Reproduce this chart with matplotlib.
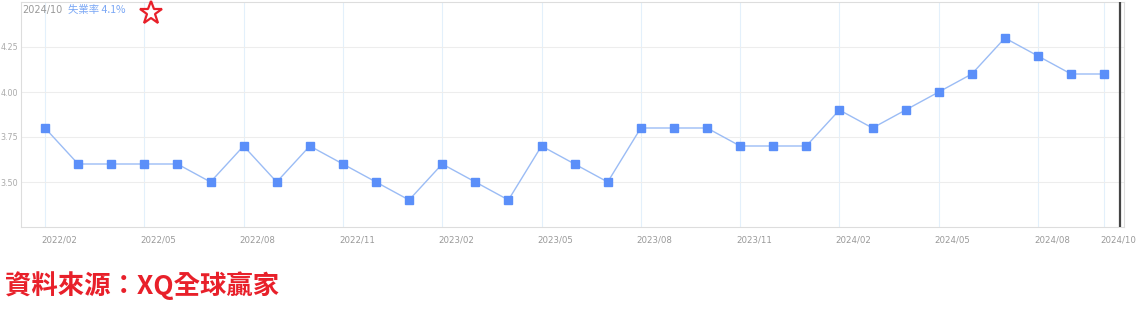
import matplotlib.pyplot as plt
from matplotlib.lines import Line2D
import numpy as np

plt.rcParams['font.family'] = ['Noto Sans CJK TC', 'DejaVu Sans']

# monthly unemployment rate, 2022/02 .. 2024/10
months = ['2022/02', '2022/03', '2022/04', '2022/05', '2022/06', '2022/07', '2022/08',
          '2022/09', '2022/10', '2022/11', '2022/12', '2023/01', '2023/02', '2023/03',
          '2023/04', '2023/05', '2023/06', '2023/07', '2023/08', '2023/09', '2023/10',
          '2023/11', '2023/12', '2024/01', '2024/02', '2024/03', '2024/04', '2024/05',
          '2024/06', '2024/07', '2024/08', '2024/09', '2024/10']
rate = [3.8, 3.6, 3.6, 3.6, 3.6, 3.5, 3.7, 3.5, 3.7, 3.6, 3.5, 3.4, 3.6, 3.5, 3.4,
        3.7, 3.6, 3.5, 3.8, 3.8, 3.8, 3.7, 3.7, 3.7, 3.9, 3.8, 3.9, 4.0, 4.1, 4.3,
        4.2, 4.1, 4.1]
yticks = [3.50, 3.75, 4.00, 4.25]

x = np.arange(len(months))
tick_idx = list(range(0, len(months), 3)) + [len(months) - 1]

fig = plt.figure(figsize=(11.36, 3.15), dpi=100)
ax = fig.add_axes([21 / 1136, 1 - 227 / 315, (1124 - 21) / 1136, (227 - 2) / 315])

# grid
for i in tick_idx:
    ax.axvline(i, color='#e3f0fb', lw=0.8, zorder=0)
for v in yticks:
    ax.axhline(v, color='#ededed', lw=0.8, zorder=0)

ax.plot(x, rate, color='#9bbcf5', lw=1.0, zorder=2)
ax.plot(x, rate, ls='none', marker='s', ms=5.8, color='#5b8ff9', zorder=3)

# cursor line at the latest month
ax.axvline(len(months) - 0.53, color='#444444', lw=1.6, zorder=4)

ax.set_xlim(-(45 - 21) / 33.1, (1124 - 45) / 33.1)
ax.set_ylim(3.25, 4.5)

ax.set_yticks(yticks)
ax.set_yticklabels(['%.2f' % v for v in yticks], fontsize=5.8, color='#aaaaaa',
                   family='DejaVu Sans')
ax.set_xticks([])
for i in tick_idx:
    ax.annotate(months[i], (i, 0), xycoords=('data', 'axes fraction'),
                xytext=(-4, -13), textcoords='offset pixels',
                ha='left', va='center', fontsize=6.2, color='#999999',
                family='DejaVu Sans')
ax.tick_params(axis='y', length=0, pad=2)

for side in ['left', 'bottom', 'top', 'right']:
    ax.spines[side].set_color('#dddddd')
    ax.spines[side].set_linewidth(0.8)

# header
fig.text(22 / 1136, 1 - 10 / 315, '2024/10', fontsize=7, color='#999999',
         va='center', ha='left', family='DejaVu Sans')
fig.text(68 / 1136, 1 - 10 / 315, '失業率 4.1%', fontsize=7.5, color='#7aa7f5',
         va='center', ha='left')
star = Line2D([151 / 1136], [1 - 13 / 315], transform=fig.transFigure,
              marker='*', ms=17, mfc='white', mec='#e8202a', mew=1.6, ls='none')
fig.add_artist(star)

# source note
fig.text(5 / 1136, 1 - 286 / 315, '資料來源：XQ全球贏家', fontsize=19,
         color='#e8202a', fontweight='bold', va='center', ha='left')

fig.savefig('out.png', dpi=100)
